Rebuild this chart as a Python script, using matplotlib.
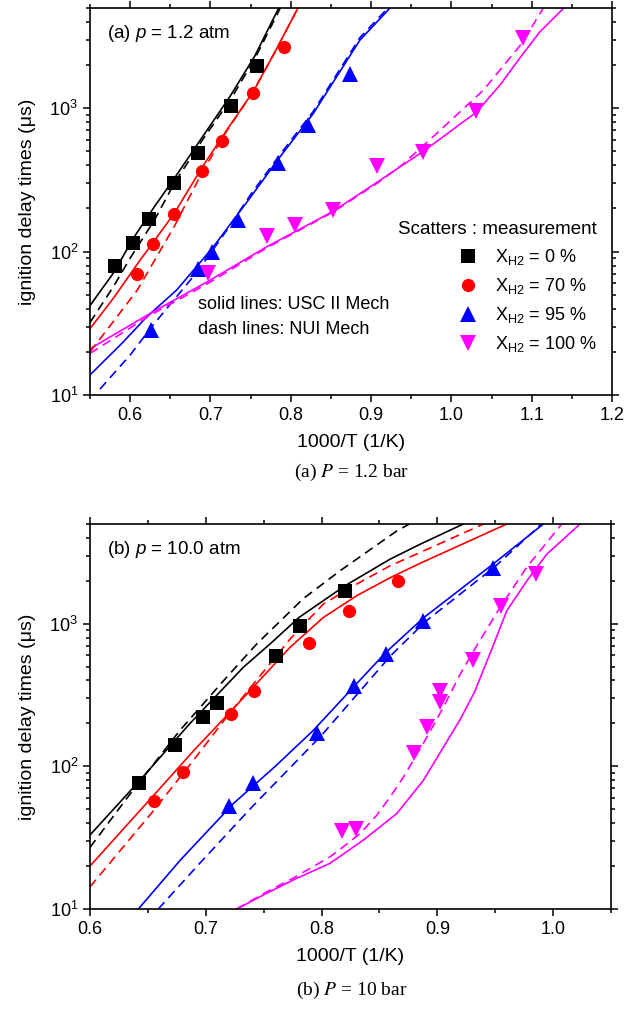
import matplotlib
matplotlib.use("Agg")
import matplotlib.pyplot as plt
from matplotlib.ticker import MultipleLocator, LogLocator, FormatStrFormatter

plt.rcParams["font.family"] = ["Liberation Sans", "DejaVu Sans"]
plt.rcParams["mathtext.fontset"] = "custom"
plt.rcParams["mathtext.rm"] = "Liberation Sans"
plt.rcParams["mathtext.it"] = "Liberation Sans:italic"

# --- (a) 1.2 atm: measurements ---------------------------------------------
a_x0 = [0.581, 0.604, 0.623, 0.655, 0.684, 0.725, 0.758]
a_y0 = [80, 115, 170, 303, 491, 1038, 1972]
a_x70 = [0.609, 0.629, 0.655, 0.690, 0.714, 0.753, 0.791]
a_y70 = [70, 113, 182, 366, 589, 1280, 2673]
a_x95 = [0.626, 0.685, 0.702, 0.734, 0.784, 0.822, 0.874]
a_y95 = [28.4, 76, 100, 166, 412, 762, 1746]
a_x100 = [0.697, 0.770, 0.805, 0.852, 0.908, 0.965, 1.031, 1.089]
a_y100 = [71, 128, 153, 195, 396, 497, 953, 3110]

# --- (a) model curves (solid USC II, dash NUI) -------------------------------
a_usc0_x = [0.55, 0.58, 0.604, 0.63, 0.655, 0.69, 0.724, 0.755, 0.785]
a_usc0_y = [42, 72, 124, 205, 324, 630, 1200, 2300, 5000]
a_nui0_x = [0.55, 0.58, 0.60, 0.63, 0.655, 0.69, 0.725, 0.755, 0.787]
a_nui0_y = [32, 58, 90, 165, 300, 600, 1150, 2200, 5000]
a_usc70_x = [0.55, 0.58, 0.609, 0.655, 0.69, 0.72, 0.753, 0.78, 0.809]
a_usc70_y = [29, 48, 82, 185, 390, 700, 1300, 2450, 5000]
a_nui70_x = [0.55, 0.58, 0.609, 0.655, 0.69, 0.72, 0.753, 0.78, 0.809]
a_nui70_y = [20, 33, 54, 150, 360, 690, 1300, 2450, 5000]
a_usc95_x = [0.55, 0.59, 0.6206, 0.658, 0.7036, 0.745, 0.7866, 0.828, 0.886, 0.9236]
a_usc95_y = [13.8, 23, 35, 54, 108, 220, 458, 918, 2980, 5000]
a_nui95_x = [0.5625, 0.60, 0.627, 0.685, 0.72, 0.75, 0.786, 0.828, 0.886, 0.921]
a_nui95_y = [11, 19, 30, 74, 140, 250, 470, 950, 3100, 5000]
a_usc100_x = [0.55, 0.6247, 0.697, 0.77, 0.852, 0.9077, 0.936, 0.965, 1.0315,
              1.0605, 1.0855, 1.11, 1.14]
a_usc100_y = [21, 37, 62, 108, 190, 305, 390, 500, 942, 1450, 2250, 3400, 5000]
a_nui100_x = [0.55, 0.625, 0.697, 0.77, 0.852, 0.9077, 0.938, 0.9816, 1.0397,
              1.0875, 1.1145]
a_nui100_y = [19.5, 36, 60, 106, 188, 300, 400, 666, 1333, 2820, 5000]

# --- (b) 10 atm: measurements ------------------------------------------------
b_x0 = [0.642, 0.673, 0.698, 0.710, 0.761, 0.781, 0.820]
b_y0 = [77, 142, 221, 279, 590, 968, 1702]
b_x70 = [0.655, 0.680, 0.722, 0.742, 0.789, 0.824, 0.866]
b_y70 = [57, 91, 231, 340, 728, 1218, 1978]
b_x95 = [0.720, 0.741, 0.796, 0.828, 0.856, 0.888, 0.948]
b_y95 = [52.7, 76, 171, 365, 614, 1049, 2449]
b_x100 = [0.818, 0.830, 0.880, 0.891, 0.902, 0.902, 0.931, 0.955, 0.985]
b_y100 = [35.5, 36.5, 125, 188, 282, 340, 557, 1336, 2223]

# --- (b) model curves --------------------------------------------------------
b_usc0_x = [0.6, 0.642, 0.6864, 0.7103, 0.7325, 0.7555, 0.7806, 0.8203, 0.8592,
            0.8851, 0.9225]
b_usc0_y = [33, 78, 200, 320, 495, 721, 1107, 1845, 2834, 3605, 5000]
b_nui0_x = [0.6, 0.632, 0.678, 0.718, 0.744, 0.7843, 0.816, 0.865, 0.876]
b_nui0_y = [27, 60, 180, 421, 721, 1500, 2350, 4470, 5000]
b_usc70_x = [0.6, 0.655, 0.69, 0.721, 0.7728, 0.8016, 0.8304, 0.8592, 0.8851, 0.96]
b_usc70_y = [20, 62.6, 130, 240, 683, 1107, 1571, 2100, 2650, 5000]
b_nui70_x = [0.6, 0.655, 0.69, 0.721, 0.7728, 0.8016, 0.8304, 0.8592, 0.8851, 0.94]
b_nui70_y = [14.3, 49, 112, 238, 780, 1374, 1897, 2545, 3156, 5000]
b_usc95_x = [0.6418, 0.678, 0.724, 0.76, 0.793, 0.8275, 0.8557, 0.888, 0.948, 0.9916]
b_usc95_y = [10, 22, 55, 100, 179, 359, 631, 1098, 2612, 5000]
b_nui95_x = [0.659, 0.695, 0.74, 0.80, 0.86, 0.89, 0.95, 0.99]
b_nui95_y = [10, 21, 52, 165, 600, 1040, 2520, 5000]
b_usc100_x = [0.7267, 0.7527, 0.7757, 0.8073, 0.8361, 0.865, 0.888, 0.9052, 0.92,
              0.932, 0.9456, 0.96, 0.9773, 0.9945, 1.0233]
b_usc100_y = [10, 12.9, 16, 20.9, 30.4, 46.7, 79.8, 136, 215, 330, 620, 1233,
              1995, 3069, 5000]
b_nui100_x = [0.7267, 0.7527, 0.7757, 0.8073, 0.8188, 0.8333, 0.8477, 0.8592,
              0.8707, 0.8793, 0.8894, 0.9038, 0.9196, 0.934, 0.9542, 0.977, 1.0075]
b_nui100_y = [10, 13.2, 16.5, 23.2, 27.3, 33.8, 45.4, 61, 84, 110, 152, 247, 440,
              700, 1300, 2476, 5000]

COLORS = ["black", "red", "blue", "magenta"]
MARKERS = [("s", 9.5), ("o", 9.5), ("^", 11), ("v", 11)]
LABELS = [r"X$_{\mathregular{H2}}$ = 0 %", r"X$_{\mathregular{H2}}$ = 70 %",
          r"X$_{\mathregular{H2}}$ = 95 %", r"X$_{\mathregular{H2}}$ = 100 %"]
DASH = (0, (5.5, 3.5))


def style_axes(ax, xlim, xmajor):
    ax.set_yscale("log")
    ax.set_xlim(*xlim)
    ax.set_ylim(10, 5000)
    ax.xaxis.set_major_locator(MultipleLocator(xmajor))
    ax.xaxis.set_minor_locator(MultipleLocator(xmajor / 2))
    ax.xaxis.set_major_formatter(FormatStrFormatter("%.1f"))
    ax.yaxis.set_major_locator(LogLocator(base=10, numticks=10))
    ax.yaxis.set_minor_locator(LogLocator(base=10, subs=range(2, 10), numticks=10))
    ax.tick_params(which="both", direction="out", top=True, right=True,
                   labelsize=13, width=1.1)
    ax.tick_params(which="major", length=5)
    ax.tick_params(which="minor", length=3)
    for sp in ax.spines.values():
        sp.set_linewidth(1.2)
    ax.set_xlabel("1000/T (1/K)", fontsize=14, labelpad=7)
    ax.set_ylabel("ignition delay times (\u03bcs)", fontsize=14, labelpad=10)


def draw_panel(ax, meas, usc, nui):
    for c, (xs, ys) in zip(COLORS, usc):
        ax.plot(xs, ys, color=c, lw=1.2)
    for c, (xs, ys) in zip(COLORS, nui):
        ax.plot(xs, ys, color=c, lw=1.2, linestyle=DASH)
    for c, (m, ms), lab, (xs, ys) in zip(COLORS, MARKERS, LABELS, meas):
        ax.plot(xs, ys, linestyle="none", marker=m, ms=ms, color=c,
                markeredgewidth=0, label=lab)


fig = plt.figure(figsize=(6.35, 10.1), dpi=100)
ax1 = fig.add_axes([0.1417, 0.6089, 0.8221, 0.3832])
ax2 = fig.add_axes([0.1417, 0.1000, 0.8205, 0.3812])

draw_panel(ax1,
           [(a_x0, a_y0), (a_x70, a_y70), (a_x95, a_y95), (a_x100, a_y100)],
           [(a_usc0_x, a_usc0_y), (a_usc70_x, a_usc70_y),
            (a_usc95_x, a_usc95_y), (a_usc100_x, a_usc100_y)],
           [(a_nui0_x, a_nui0_y), (a_nui70_x, a_nui70_y),
            (a_nui95_x, a_nui95_y), (a_nui100_x, a_nui100_y)])
style_axes(ax1, (0.55, 1.2), 0.1)
ax1.text(0.033, 0.935, "(a) $p$ = 1.2 atm", transform=ax1.transAxes,
         fontsize=13.5, va="center")
ax1.text(0.207, 0.2326, "solid lines: USC II Mech", transform=ax1.transAxes,
         fontsize=13, va="center")
ax1.text(0.207, 0.1705, "dash lines: NUI Mech", transform=ax1.transAxes,
         fontsize=13, va="center")
leg = ax1.legend(loc="lower right", bbox_to_anchor=(0.995, 0.073), frameon=False,
                 title="Scatters : measurement", title_fontsize=13.5, fontsize=13,
                 handletextpad=0.9, labelspacing=0.5, alignment="right",
                 borderpad=0.2, handlelength=1.2)

draw_panel(ax2,
           [(b_x0, b_y0), (b_x70, b_y70), (b_x95, b_y95), (b_x100, b_y100)],
           [(b_usc0_x, b_usc0_y), (b_usc70_x, b_usc70_y),
            (b_usc95_x, b_usc95_y), (b_usc100_x, b_usc100_y)],
           [(b_nui0_x, b_nui0_y), (b_nui70_x, b_nui70_y),
            (b_nui95_x, b_nui95_y), (b_nui100_x, b_nui100_y)])
style_axes(ax2, (0.6, 1.05), 0.1)
ax2.text(0.033, 0.935, "(b) $p$ = 10.0 atm", transform=ax2.transAxes,
         fontsize=13.5, va="center")

fig.text(0.553, 0.5327, "(a) $P$ = 1.2 bar", ha="center", va="center",
         fontsize=14, family="Liberation Serif", math_fontfamily="stix")
fig.text(0.553, 0.0198, "(b) $P$ = 10 bar", ha="center", va="center",
         fontsize=14, family="Liberation Serif", math_fontfamily="stix")

fig.savefig("out.png", dpi=100)
